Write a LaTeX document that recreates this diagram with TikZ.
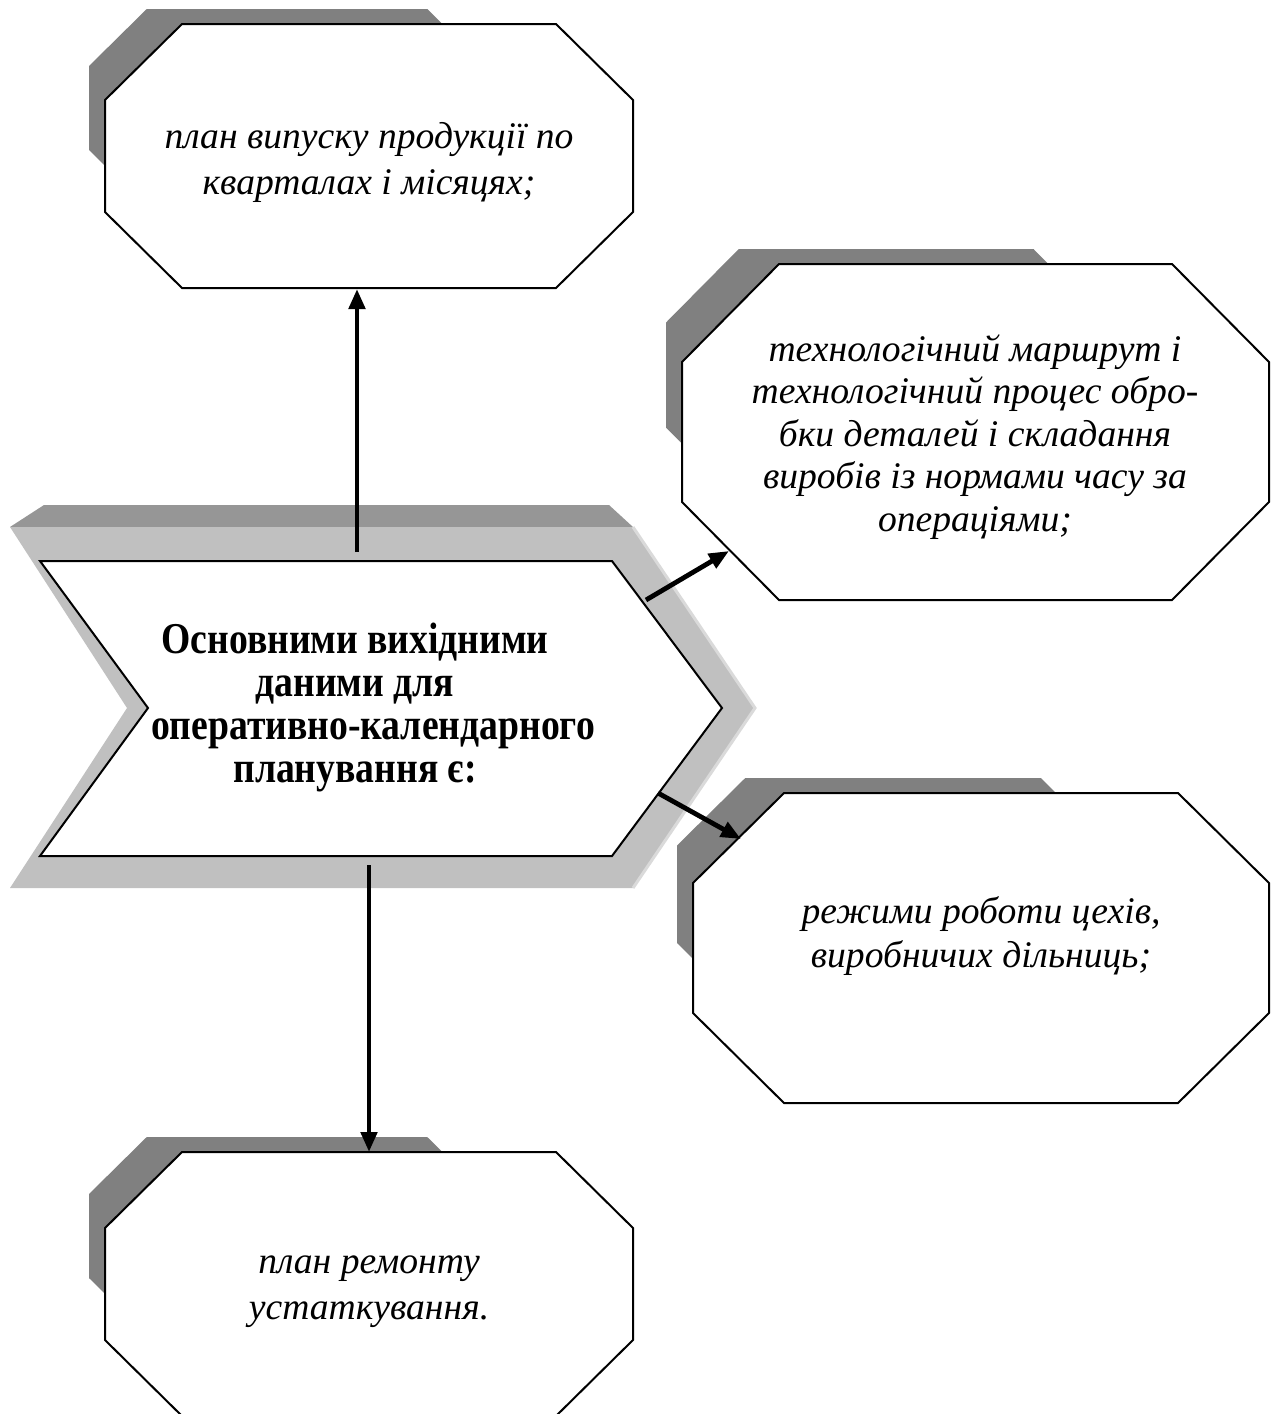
\documentclass[tikz,border=0pt]{standalone}
\usepackage{fontspec}
\setmainfont{Liberation Serif}
\newfontfamily\condfont{Liberation Serif}[FakeStretch=0.856]
\usetikzlibrary{arrows.meta}

\definecolor{shadowgray}{HTML}{808080}
\definecolor{topgray}{HTML}{969696}
\definecolor{sidegray}{HTML}{C0C0C0}
\definecolor{edgegray}{HTML}{DADADA}

% Octagon with a smaller offset shadow behind it.
% #1 left, #2 top, #3 right, #4 bottom, #5 chamfer x, #6 chamfer y
\newcommand\octagonbox[6]{%
  \pgfmathsetmacro\oxL{#1-16}%
  \pgfmathsetmacro\oxT{#2-15}%
  \pgfmathsetmacro\oxR{\oxL+0.75*(#3-#1)}%
  \pgfmathsetmacro\oxB{\oxT+0.75*(#4-#2)}%
  \pgfmathsetmacro\oxa{0.75*#5}%
  \pgfmathsetmacro\oxb{0.75*#6}%
  \fill[shadowgray] (\oxL+\oxa,\oxT) -- (\oxR-\oxa,\oxT) -- (\oxR,\oxT+\oxb)
    -- (\oxR,\oxB-\oxb) -- (\oxR-\oxa,\oxB) -- (\oxL+\oxa,\oxB)
    -- (\oxL,\oxB-\oxb) -- (\oxL,\oxT+\oxb) -- cycle;
  \draw[octline] (#1+#5,#2) -- (#3-#5,#2) -- (#3,#2+#6) -- (#3,#4-#6)
    -- (#3-#5,#4) -- (#1+#5,#4) -- (#1,#4-#6) -- (#1,#2+#6) -- cycle;
}

\begin{document}
\begin{tikzpicture}[x=0.5pt,y=-0.5pt,
  octline/.style={draw=black,line width=1pt,fill=white,line join=miter},
  itext/.style={font=\itshape\fontsize{18.8}{23}\selectfont,align=center,inner sep=0pt},
  chevtext/.style={font=\condfont\bfseries\fontsize{22}{21.5}\selectfont,align=center,inner sep=0pt},
  conn/.style={line width=2.4pt,-{Triangle[length=10pt,width=8pt]}}]
\useasboundingbox (0,0) rectangle (1276,1414);

% central chevron with its raised frame
\fill[topgray] (10,527) -- (44,505) -- (609,505) -- (633,527) -- cycle;
\fill[sidegray] (10,527) -- (633,527) -- (755,708) -- (633,888) -- (10,888) -- (127,708) -- cycle;
\draw[edgegray,line width=1.5pt] (633,527) -- (755,708) -- (633,888);
\draw[line width=1pt,fill=white,line join=miter]
  (40,561) -- (612,561) -- (722,708) -- (612,856) -- (40,856) -- (148,708) -- cycle;
\node[chevtext] (chev) at (355,707)
  {Основними вихідними\\даними для\\\hspace*{18pt}оперативно-календарного\\планування є:};

% surrounding octagons
\octagonbox{105}{24}{633}{288}{77}{76}
\node[itext] (A) at (369,162) {план випуску продукції по\\кварталах і місяцях;};

\octagonbox{682}{264}{1269}{600}{97}{98}
\node[itext,font=\itshape\fontsize{18.8}{21.3}\selectfont] (B) at (975,437)
  {технологічний маршрут і\\технологічний процес обро-\\бки деталей і складання\\виробів із нормами часу за\\операціями;};

\octagonbox{693}{793}{1269}{1103}{91}{90}
\node[itext,font=\itshape\fontsize{18.8}{22}\selectfont] (C) at (981,936) {режими роботи цехів,\\виробничих дільниць;};

\octagonbox{105}{1152}{633}{1416}{77}{76}
\node[itext] (D) at (369,1292) {план ремонту\\устаткування.};

% connector end points on the shape outlines
\coordinate (upS) at (357,552);  \coordinate (upE) at (357,289);
\coordinate (dnS) at (369,865);  \coordinate (dnE) at (369,1152);
\coordinate (trS) at (646,600);  \coordinate (trE) at (729,551);
\coordinate (brS) at (658,793);  \coordinate (brE) at (741,839);

\draw[conn] (upS) -- (upE);
\draw[conn] (dnS) -- (dnE);
\draw[conn] (trS) -- (trE);
\draw[conn] (brS) -- (brE);
\end{tikzpicture}
\end{document}
